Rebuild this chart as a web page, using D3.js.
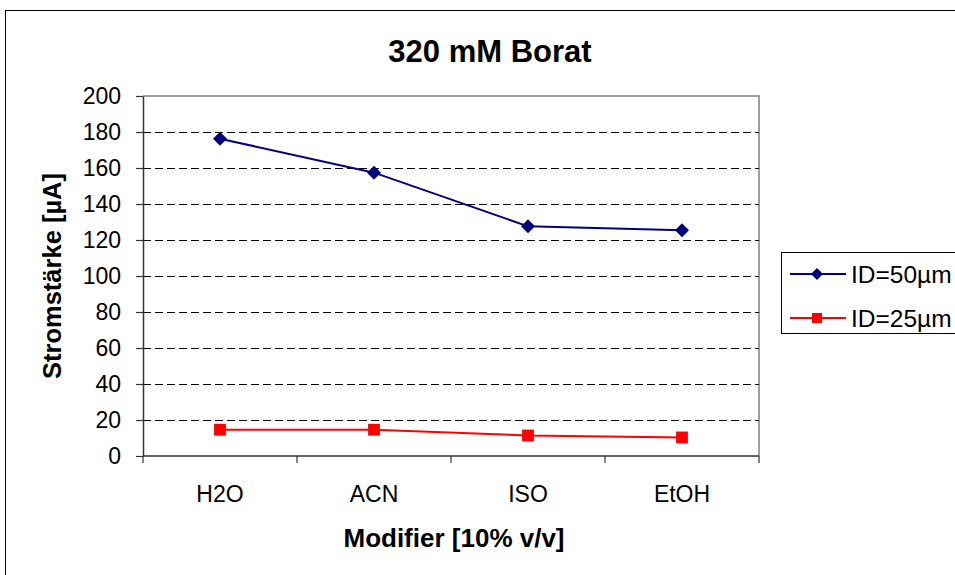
<!DOCTYPE html>
<html>
<head>
<meta charset="utf-8">
<script src="https://cdn.jsdelivr.net/npm/d3@7"></script>
<style>
  html, body { margin: 0; padding: 0; background: #fff; }
  svg { display: block; font-family: "Liberation Sans", Arial, sans-serif; }
</style>
</head>
<body>
<svg id="chart" width="955" height="575"></svg>
<script>
// Modifier categories and measured current per capillary inner diameter
const categories = ["H2O", "ACN", "ISO", "EtOH"];
const id50 = [176.3, 157.4, 127.6, 125.4];
const id25 = [14.6, 14.6, 11.4, 10.3];
const yTicks = [0, 20, 40, 60, 80, 100, 120, 140, 160, 180, 200];
const seriesNames = ["ID=50µm", "ID=25µm"];

const svg = d3.select("#chart");
const plot = { left: 143, right: 759, top: 96, bottom: 456 };

// Outer chart frame (runs past the right and bottom edges)
svg.append("rect")
  .attr("x", 5.5).attr("y", 10.5)
  .attr("width", 970).attr("height", 600)
  .attr("fill", "#fff").attr("stroke", "#000").attr("stroke-width", 1);

const x = d3.scaleBand().domain(categories).range([plot.left, plot.right]).paddingInner(0).paddingOuter(0);
const y = d3.scaleLinear().domain([0, 200]).range([plot.bottom, plot.top]);

// Plot area border (top and right in grey)
svg.append("path")
  .attr("d", `M${plot.left},${plot.top}H${plot.right}V${plot.bottom}`)
  .attr("fill", "none").attr("stroke", "#808080").attr("stroke-width", 1.5);

// Dashed horizontal gridlines
svg.append("g")
  .selectAll("line")
  .data(yTicks.filter(d => d > 0 && d < 200))
  .join("line")
  .attr("x1", plot.left).attr("x2", plot.right)
  .attr("y1", d => Math.round(y(d)) + 0.5).attr("y2", d => Math.round(y(d)) + 0.5)
  .attr("stroke", "#000").attr("stroke-width", 1)
  .attr("stroke-dasharray", "8,4");

// Y axis
const yAxis = svg.append("g")
  .attr("transform", `translate(${plot.left},0)`)
  .call(d3.axisLeft(y).tickValues(yTicks).tickSize(7).tickPadding(15).tickSizeOuter(0));
yAxis.select(".domain").attr("stroke", "#333").attr("stroke-width", 1.5);
yAxis.selectAll(".tick line").attr("stroke", "#333").attr("stroke-width", 1.2);
yAxis.selectAll(".tick text")
  .attr("font-size", 23).attr("fill", "#000")
  .attr("font-family", "Liberation Sans, Arial, sans-serif");

// X axis: ticks sit on the category boundaries
const boundaries = categories.map(c => x(c)).concat([x.range()[1]]);
const xAxisG = svg.append("g").attr("transform", `translate(0,${plot.bottom})`);
xAxisG.append("line")
  .attr("x1", plot.left).attr("x2", plot.right)
  .attr("y1", 0).attr("y2", 0)
  .attr("stroke", "#333").attr("stroke-width", 1.5);
xAxisG.selectAll("line.tick")
  .data(boundaries)
  .join("line").attr("class", "tick")
  .attr("x1", d => d).attr("x2", d => d)
  .attr("y1", 0).attr("y2", 7)
  .attr("stroke", "#333").attr("stroke-width", 1.2);
xAxisG.selectAll("text")
  .data(categories)
  .join("text")
  .attr("x", d => x(d) + x.bandwidth() / 2)
  .attr("y", 46)
  .attr("text-anchor", "middle")
  .attr("font-size", 23)
  .text(d => d);

// Series lines and markers
const cx = c => x(c) + x.bandwidth() / 2;
const line = d3.line().x(d => cx(d.cat)).y(d => y(d.v));
const toPts = vals => categories.map((c, i) => ({ cat: c, v: vals[i] }));

function drawSeries(vals, color, shape, size) {
  const pts = toPts(vals);
  svg.append("path")
    .datum(pts)
    .attr("d", line)
    .attr("fill", "none").attr("stroke", color).attr("stroke-width", 2);
  svg.append("g").selectAll("path")
    .data(pts)
    .join("path")
    .attr("transform", d => `translate(${cx(d.cat)},${y(d.v)})`)
    .attr("d", d3.symbol().type(shape).size(size))
    .attr("fill", color);
}

const diamond = {
  draw(ctx, size) {
    const r = Math.sqrt(size) / 2;
    ctx.moveTo(0, -r); ctx.lineTo(r, 0); ctx.lineTo(0, r); ctx.lineTo(-r, 0); ctx.closePath();
  }
};

drawSeries(id50, "#000080", diamond, 196);
drawSeries(id25, "#ff0000", d3.symbolSquare, 140);

// Title
svg.append("text")
  .attr("x", 490).attr("y", 62)
  .attr("text-anchor", "middle")
  .attr("font-size", 31).attr("font-weight", "bold")
  .text("320 mM Borat");

// Axis titles
svg.append("text")
  .attr("x", 454).attr("y", 547)
  .attr("text-anchor", "middle")
  .attr("font-size", 26).attr("font-weight", "bold")
  .text("Modifier [10% v/v]");

svg.append("text")
  .attr("transform", `translate(61,276) rotate(-90)`)
  .attr("text-anchor", "middle")
  .attr("font-size", 25.5).attr("font-weight", "bold")
  .text("Stromstärke [µA]");

// Legend
const legend = svg.append("g");
legend.append("rect")
  .attr("x", 781.5).attr("y", 252.5)
  .attr("width", 200).attr("height", 81)
  .attr("fill", "#fff").attr("stroke", "#000").attr("stroke-width", 1);

const legendRows = [
  { name: seriesNames[0], color: "#000080", shape: diamond, size: 144, cy: 274 },
  { name: seriesNames[1], color: "#ff0000", shape: d3.symbolSquare, size: 100, cy: 318 }
];
legendRows.forEach(r => {
  legend.append("line")
    .attr("x1", 790).attr("x2", 846)
    .attr("y1", r.cy).attr("y2", r.cy)
    .attr("stroke", r.color).attr("stroke-width", 2);
  legend.append("path")
    .attr("transform", `translate(817,${r.cy})`)
    .attr("d", d3.symbol().type(r.shape).size(r.size))
    .attr("fill", r.color);
  legend.append("text")
    .attr("x", 851).attr("y", r.cy + 8.5)
    .attr("font-size", 24.5)
    .text(r.name);
});
</script>
</body>
</html>
